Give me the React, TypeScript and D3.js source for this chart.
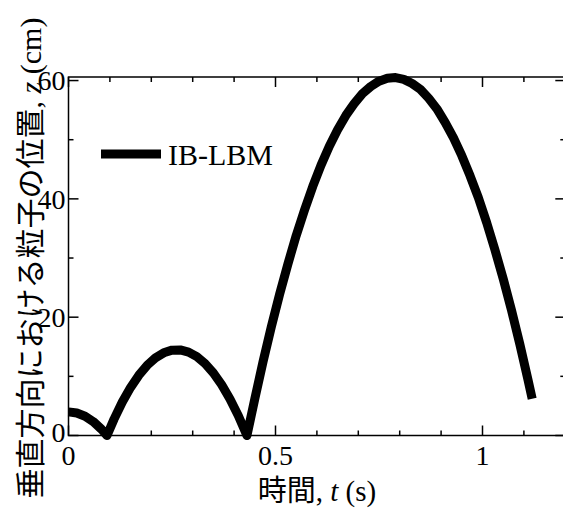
import React from "react";
import * as d3 from "d3";

// particle position z (cm) vs time t (s)
const times = [
  0, 0.02, 0.04, 0.06, 0.08, 0.093,
  0.11, 0.13, 0.15, 0.17, 0.19, 0.21, 0.23, 0.25, 0.27, 0.29, 0.31, 0.33, 0.35, 0.37, 0.39, 0.41, 0.431,
  0.45, 0.47, 0.49, 0.51, 0.53, 0.55, 0.57, 0.59, 0.61, 0.63, 0.65, 0.67, 0.69, 0.71, 0.73, 0.75, 0.77,
  0.79, 0.81, 0.83, 0.85, 0.87, 0.89, 0.91, 0.93, 0.95, 0.97, 0.99, 1.01, 1.03, 1.05, 1.07, 1.09, 1.11, 1.12,
];
const positions = [
  4.0, 3.8, 3.26, 2.34, 1.04, 0,
  2.77, 5.65, 8.13, 10.2, 11.87, 13.13, 13.98, 14.43, 14.47, 14.1, 13.33, 12.15, 10.57, 8.58, 6.18, 3.38, 0,
  6.2, 12.5, 18.4, 23.9, 29.0, 33.8, 38.1, 42.1, 45.7, 48.9, 51.7, 54.1, 56.1, 57.8, 59.0, 59.9, 60.4,
  60.5, 60.2, 59.5, 58.5, 57.0, 55.2, 52.9, 50.3, 47.3, 43.9, 40.2, 36.0, 31.4, 26.5, 21.2, 15.5, 9.4, 6.2,
];
const xMajor = [0, 0.5, 1];
const xMajorLabels = ["0", "0.5", "1"];
const xMinor = [0.1, 0.2, 0.3, 0.4, 0.6, 0.7, 0.8, 0.9, 1.1];
const yMajor = [0, 20, 40, 60];
const yMinor = [10, 30, 50];
const seriesName = "IB-LBM";

const W = 563;
const H = 508;
const left = 68.5;
const right = 565.3;
const top = 77;
const bottom = 435.5;
const serif = "'Liberation Serif', 'Times New Roman', 'Noto Sans CJK JP', serif";

export default function App() {
  const x = d3.scaleLinear().domain([0, 1.2]).range([left, right]);
  const y = d3.scaleLinear().domain([0, 60.6]).range([bottom, top]);
  const data = times.map((t, i) => [t, positions[i]] as [number, number]);
  const path = d3
    .line<[number, number]>()
    .x((d) => x(d[0]))
    .y((d) => y(d[1]))
    .curve(d3.curveLinear)(data);

  const major = 10;
  const minor = 5;

  return (
    <svg
      width={W}
      height={H}
      style={{ position: "absolute", left: 0, top: 0, background: "#fff" }}
      fontFamily={serif}
    >
      <path d={path ?? ""} fill="none" stroke="#000" strokeWidth={9} strokeLinejoin="round" />

      {/* frame */}
      <rect x={left} y={top} width={right - left} height={bottom - top} fill="none" stroke="#000" strokeWidth={1.5} />

      {/* x ticks, bottom and top */}
      {xMajor.map((v) => (
        <g key={"xM" + v}>
          <line x1={x(v)} x2={x(v)} y1={bottom} y2={bottom - major} stroke="#000" strokeWidth={1.5} />
          <line x1={x(v)} x2={x(v)} y1={top} y2={top + major} stroke="#000" strokeWidth={1.5} />
        </g>
      ))}
      {xMinor.map((v) => (
        <g key={"xm" + v}>
          <line x1={x(v)} x2={x(v)} y1={bottom} y2={bottom - minor} stroke="#000" strokeWidth={1.5} />
          <line x1={x(v)} x2={x(v)} y1={top} y2={top + minor} stroke="#000" strokeWidth={1.5} />
        </g>
      ))}
      {xMajor.map((v, i) => (
        <text key={"xl" + v} x={x(v)} y={bottom + 29} textAnchor="middle" fontSize={28}>
          {xMajorLabels[i]}
        </text>
      ))}

      {/* y ticks, left and right */}
      {yMajor.map((v) => (
        <g key={"yM" + v}>
          <line x1={left} x2={left + major} y1={y(v)} y2={y(v)} stroke="#000" strokeWidth={1.5} />
          <line x1={right} x2={right - major} y1={y(v)} y2={y(v)} stroke="#000" strokeWidth={1.5} />
          <text x={left - 3} y={v === 0 ? y(v) - 3 : y(v)} dy="0.35em" textAnchor="end" fontSize={28}>
            {v}
          </text>
        </g>
      ))}
      {yMinor.map((v) => (
        <g key={"ym" + v}>
          <line x1={left} x2={left + minor} y1={y(v)} y2={y(v)} stroke="#000" strokeWidth={1.5} />
          <line x1={right} x2={right - minor} y1={y(v)} y2={y(v)} stroke="#000" strokeWidth={1.5} />
        </g>
      ))}

      {/* axis titles */}
      <text x={317} y={501} textAnchor="middle" fontSize={29}>
        時間, <tspan fontStyle="italic">t</tspan> (s)
      </text>
      <text
        transform={`translate(41,258) rotate(-90)`}
        textAnchor="middle"
        fontSize={30}
      >
        垂直方向における粒子の位置, <tspan fontStyle="italic">z</tspan> (cm)
      </text>

      {/* legend */}
      <line x1={101} x2={161} y1={154} y2={154} stroke="#000" strokeWidth={9} />
      <text x={168} y={165} fontSize={30}>
        {seriesName}
      </text>
    </svg>
  );
}
